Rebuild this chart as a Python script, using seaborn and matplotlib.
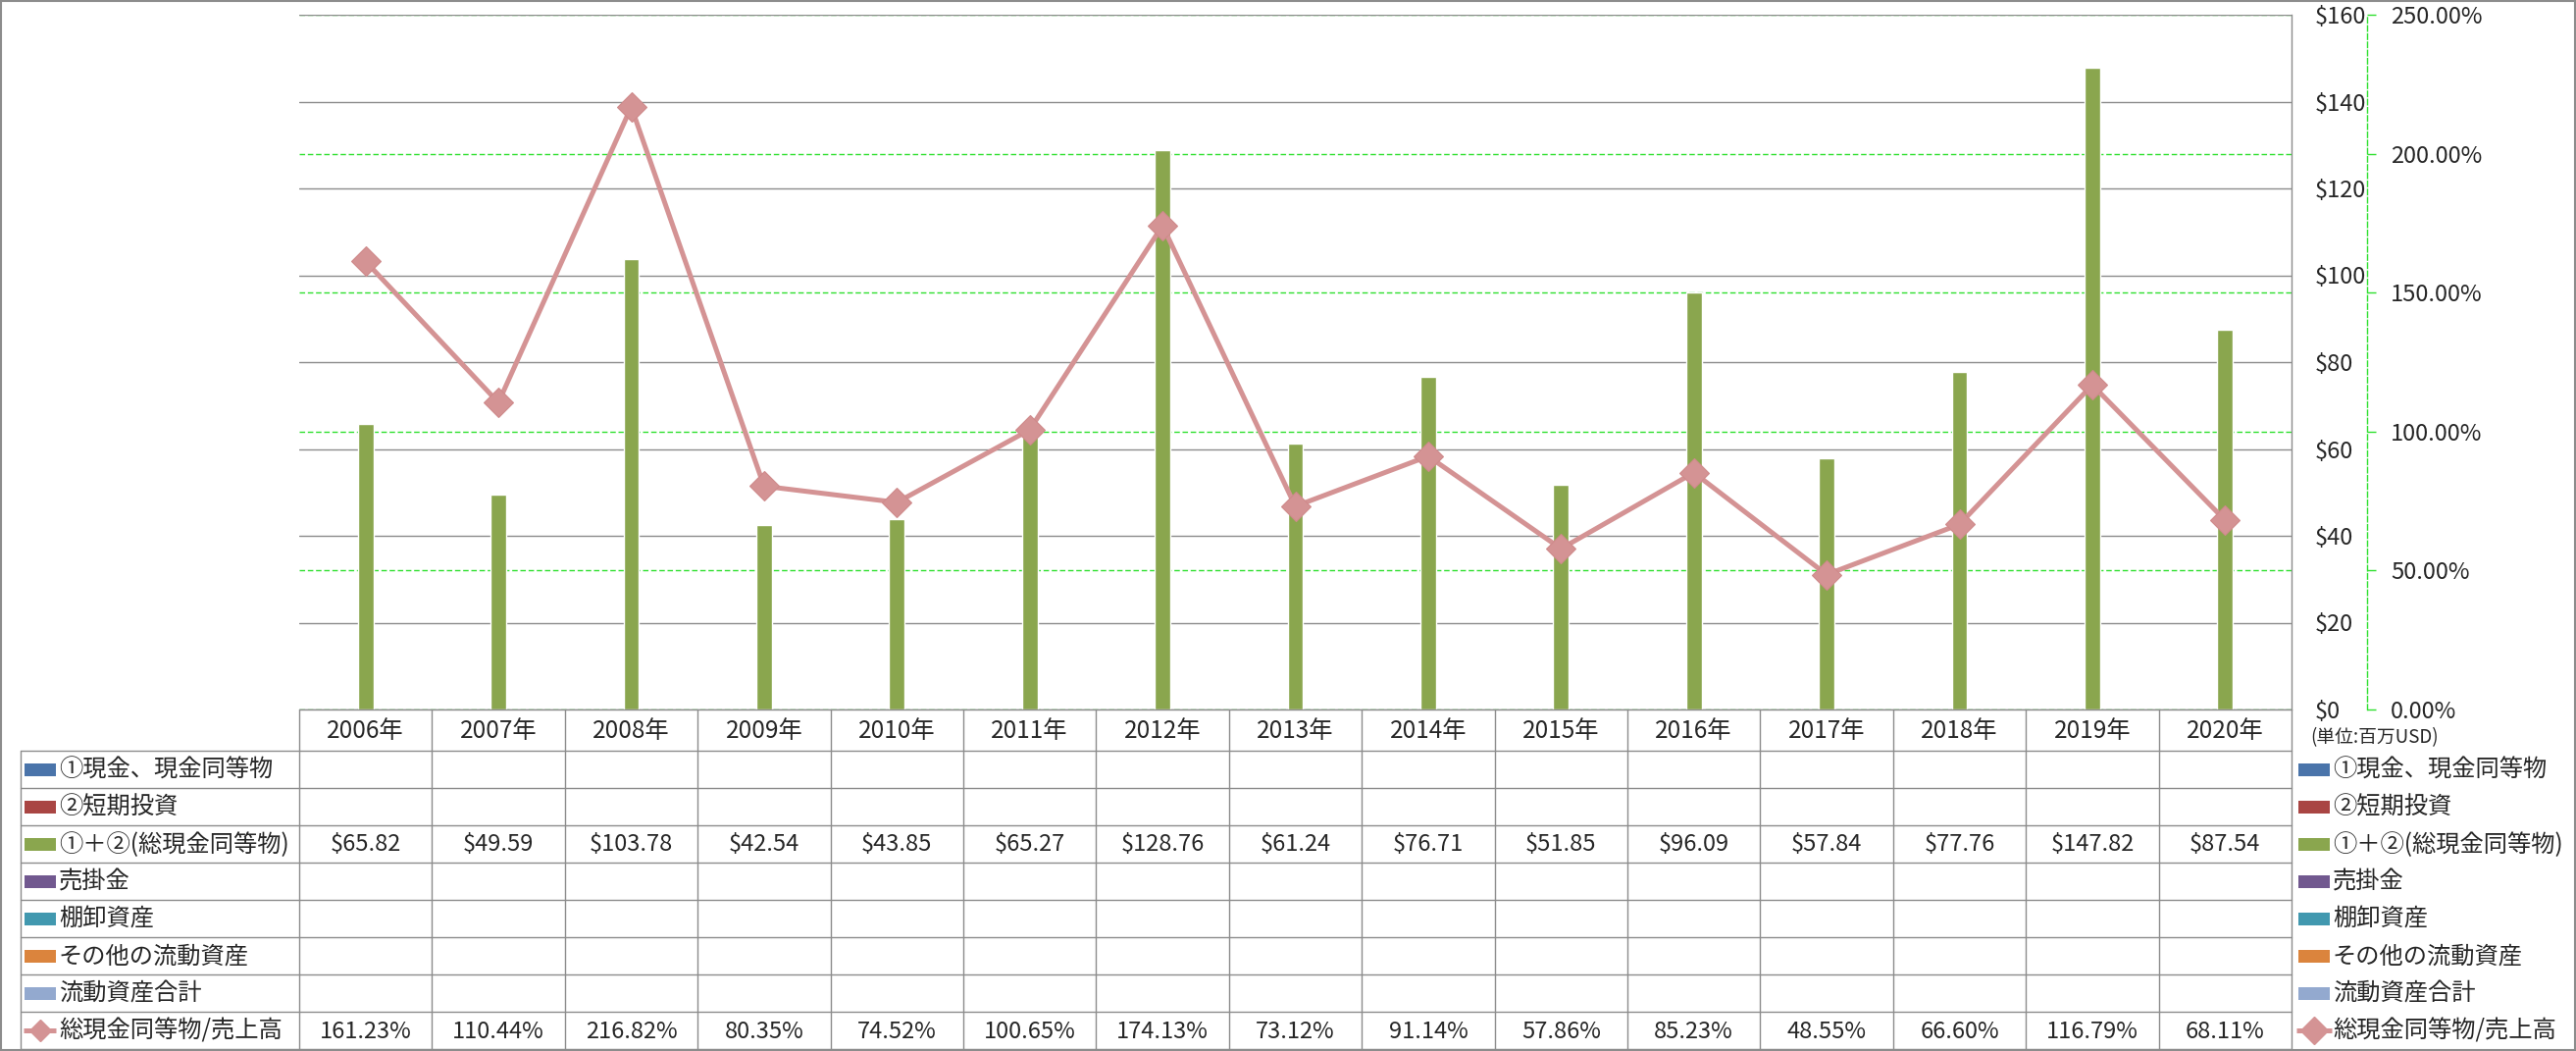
import numpy as np
import pandas as pd
import matplotlib
matplotlib.use("Agg")
import matplotlib.pyplot as plt
import seaborn as sns
from matplotlib.lines import Line2D
from matplotlib.patches import Rectangle

# ---------------- data ----------------
years = ['2006年', '2007年', '2008年', '2009年', '2010年', '2011年', '2012年', '2013年',
         '2014年', '2015年', '2016年', '2017年', '2018年', '2019年', '2020年']
cash_total = [65.82, 49.59, 103.78, 42.54, 43.85, 65.27, 128.76, 61.24,
              76.71, 51.85, 96.09, 57.84, 77.76, 147.82, 87.54]
ratio_pct = [161.23, 110.44, 216.82, 80.35, 74.52, 100.65, 174.13, 73.12,
             91.14, 57.86, 85.23, 48.55, 66.60, 116.79, 68.11]
series_names = ['①現金、現金同等物', '②短期投資', '①＋②(総現金同等物)', '売掛金',
                '棚卸資産', 'その他の流動資産', '流動資産合計', '総現金同等物/売上高']
series_colors = ['#4a74aa', '#a94543', '#8aa64e', '#71588f', '#4198af', '#db843d',
                 '#93a9cf', '#d49394']
dollar_ticks = [0, 20, 40, 60, 80, 100, 120, 140, 160]
pct_ticks = [0, 50, 100, 150, 200, 250]
unit_label = '(単位:百万USD)'

# ---------------- style ----------------
sns.set_style('white')
plt.rcParams['font.family'] = ['Noto Sans CJK JP', 'DejaVu Sans']

W, H = 2626, 1071
fig = plt.figure(figsize=(W / 100, H / 100), dpi=100)
fig.patch.set_facecolor('white')

GRAY = '#8c8c8c'
GREEN_DASH = '#2ee02e'
FS = 17.5
FS_NUM = 17

px_left, px_right, px_top, px_bottom = 305, 2336, 15, 723
rect = [px_left / W, 1 - px_bottom / H, (px_right - px_left) / W, (px_bottom - px_top) / H]

ax = fig.add_axes(rect)
ax2 = ax.twinx()
ax3 = ax.twinx()
ax.set_zorder(2)
ax2.set_zorder(1)
ax3.set_zorder(3)
ax.patch.set_visible(False)
ax2.patch.set_visible(False)
ax3.patch.set_visible(False)

df = pd.DataFrame({'year': years, 'cash': cash_total, 'ratio': ratio_pct})

# bars
sns.barplot(data=df, x='year', y='cash', ax=ax, color=series_colors[2], saturation=1,
            width=0.118, zorder=2)
ax.set_xlim(-0.5, 14.5)
ax.set_ylim(0, 160)
ax.set_yticks(dollar_ticks)
ax.set_yticklabels([f'${t}' for t in dollar_ticks])
ax.yaxis.tick_right()
ax.tick_params(axis='y', length=0, pad=17, labelsize=FS_NUM)
ax.tick_params(axis='x', length=0, labelbottom=False)
ax.set_xlabel('')
ax.set_ylabel('')
ax.grid(axis='y', color=GRAY, lw=1.0)
ax.grid(axis='x', visible=False)
for s in ['left', 'top', 'bottom']:
    ax.spines[s].set_visible(False)
ax.spines['right'].set_color(GRAY)
ax.spines['right'].set_linewidth(1.0)

# percent axis (behind bars)
ax2.set_ylim(0, 250)
ax2.set_yticks(pct_ticks)
ax2.set_yticklabels([f'{t:.2f}%' for t in pct_ticks])
ax2.grid(axis='y', color=GREEN_DASH, lw=1.0, linestyle=(0, (4, 2)))
for s in ['left', 'top', 'bottom']:
    ax2.spines[s].set_visible(False)
ax2.spines['right'].set_position(('axes', (2413 - px_left) / (px_right - px_left)))
ax2.spines['right'].set_color(GREEN_DASH)
ax2.spines['right'].set_linestyle((0, (4, 2)))
ax2.spines['right'].set_linewidth(1.0)
ax2.tick_params(axis='y', direction='out', length=6.5, width=1.0, color=GREEN_DASH,
                pad=11, labelsize=FS_NUM)

# line on top
sns.lineplot(data=df, x=np.arange(len(years)), y='ratio', ax=ax3, color=series_colors[7],
             lw=3.6, marker='D', markersize=15.5, markeredgewidth=0.8,
             markeredgecolor='#cf8a8b', markerfacecolor=series_colors[7], zorder=5)
ax3.set_ylim(0, 250)
ax3.set_xlim(-0.5, 14.5)
ax3.axis('off')

# ---------------- overlay (table & legend) ----------------
ov = fig.add_axes([0, 0, 1, 1])
ov.set_xlim(0, W)
ov.set_ylim(H, 0)
ov.axis('off')
ov.set_zorder(10)
ov.patch.set_visible(False)

ov.add_patch(Rectangle((0.75, 0.75), W - 1.5, H - 1.5, fill=False, ec=GRAY, lw=1.5))

colw = (px_right - px_left) / len(years)
tab_left = 21
head_top, head_bot = 723, 765
row_h = 38
n_rows = len(series_names)
tab_bot = head_bot + row_h * n_rows

lkw = dict(color=GRAY, lw=1.0)
# horizontal lines
ov.plot([px_left, px_right], [head_top, head_top], **lkw)
for k in range(n_rows + 1):
    y = head_bot + row_h * k
    ov.plot([tab_left, px_right], [y, y], **lkw)
# vertical lines
ov.plot([tab_left, tab_left], [head_bot, tab_bot], **lkw)
for i in range(len(years) + 1):
    x = px_left + colw * i
    ov.plot([x, x], [head_top, tab_bot], **lkw)

# header
for i, yr in enumerate(years):
    ov.text(px_left + colw * (i + 0.5), (head_top + head_bot) / 2 + 1, yr,
            ha='center', va='center', fontsize=FS)

# rows
for k, (name, col) in enumerate(zip(series_names, series_colors)):
    yc = head_bot + row_h * (k + 0.5)
    if k == n_rows - 1:
        ov.add_line(Line2D([24, 57], [yc, yc], color=col, lw=3.6, solid_capstyle='butt'))
        ov.add_line(Line2D([40.5], [yc], marker='D', markersize=11, color=col, lw=0))
        ov.add_line(Line2D([2341, 2377], [yc, yc], color=col, lw=3.6, solid_capstyle='butt'))
        ov.add_line(Line2D([2359], [yc], marker='D', markersize=14, color=col, lw=0))
    else:
        ov.add_patch(Rectangle((24.5, yc - 6.5), 32.5, 13, color=col, lw=0))
        ov.add_patch(Rectangle((2343, yc - 6.5), 32, 13, color=col, lw=0))
    ov.text(60, yc + 1, name, ha='left', va='center', fontsize=FS)
    ov.text(2378, yc + 1, name, ha='left', va='center', fontsize=FS)

    if k == 2:
        vals = [f'${v:.2f}' for v in cash_total]
    elif k == n_rows - 1:
        vals = [f'{v:.2f}%' for v in ratio_pct]
    else:
        vals = None
    if vals:
        for i, v in enumerate(vals):
            ov.text(px_left + colw * (i + 0.5), yc + 1, v, ha='center', va='center',
                    fontsize=FS_NUM)

ov.text(2355, 752, unit_label, ha='left', va='center', fontsize=13.5)

fig.savefig('out.png', dpi=100)
